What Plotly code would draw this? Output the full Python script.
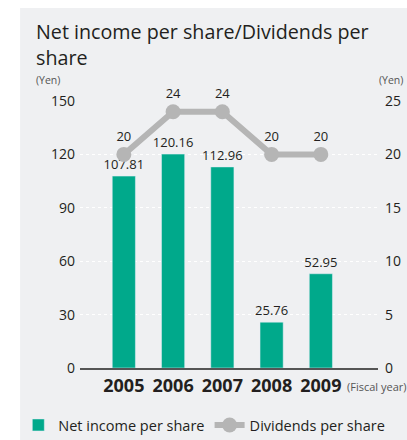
import plotly.graph_objects as go

years = ["2005", "2006", "2007", "2008", "2009"]
net_income = [107.81, 120.16, 112.96, 25.76, 52.95]
dividends = [20, 24, 24, 20, 20]
left_ticks = [0, 30, 60, 90, 120, 150]
right_ticks = [0, 5, 10, 15, 20, 25]

GREEN = "#00a98b"
GREY = "#b5b5b5"
PANEL = "#eff0f2"
TEXT = "#231f20"
FONT = "Open Sans"

xs = list(range(len(years)))

fig = go.Figure()
fig.add_trace(go.Bar(
    x=xs, y=net_income, name="Net income per share", legend="legend",
    marker_color=GREEN, width=0.47,
    text=[f"{v:.2f}" for v in net_income], textposition="outside",
    constraintext="none",
    textfont=dict(size=13, color=TEXT), cliponaxis=False,
))
fig.add_trace(go.Scatter(
    x=xs, y=dividends, name="Dividends per share", yaxis="y2", legend="legend2",
    mode="lines+markers+text",
    line=dict(color=GREY, width=6),
    marker=dict(size=15, color=GREY),
    text=[str(v) for v in dividends], textposition="top center",
    textfont=dict(size=13, color=TEXT), cliponaxis=False,
))

legend_style = dict(
    orientation="h", xref="container", yref="container",
    y=0.034, xanchor="left", yanchor="middle",
    font=dict(size=14.5, color=TEXT), bgcolor="rgba(0,0,0,0)",
    itemwidth=30,
)

fig.update_layout(
    width=407, height=440,
    margin=dict(l=80, r=29, t=101, b=72, autoexpand=False),
    paper_bgcolor=PANEL, plot_bgcolor=PANEL,
    font=dict(family=FONT, color=TEXT),
    showlegend=True,
    legend=dict(legend_style, x=0.045),
    legend2=dict(legend_style, x=0.515),
    bargap=0.5,
    xaxis=dict(
        range=[-0.89, 5.16], tickvals=xs, ticktext=years,
        tickfont=dict(size=18, color=TEXT, family=FONT, weight="bold"),
        showgrid=False, zeroline=False, automargin=False,
        showline=True, linecolor="#555", linewidth=2,
        ticks="", fixedrange=True,
    ),
    yaxis=dict(
        range=[0, 150], tickvals=left_ticks,
        tickfont=dict(size=14, color=TEXT), automargin=False,
        gridcolor="white", griddash="dot", gridwidth=1,
        zeroline=False, showline=False, ticklabelstandoff=4,
    ),
    yaxis2=dict(
        range=[0, 25], tickvals=right_ticks, overlaying="y", side="right",
        tickfont=dict(size=14, color=TEXT), automargin=False,
        showgrid=False, zeroline=False, showline=False, ticklabelstandoff=6,
    ),
    annotations=[
        dict(text="Net income per share/Dividends per<br>share", xref="paper", yref="paper",
             x=-0.154, y=1.105, xanchor="left", yanchor="bottom", showarrow=False,
             align="left", font=dict(size=19.7, color=TEXT)),
        dict(text="(Yen)", xref="paper", yref="paper", x=-0.154, y=1.045,
             xanchor="left", yanchor="bottom", showarrow=False,
             font=dict(size=10.5, color="#555")),
        dict(text="(Yen)", xref="paper", yref="paper", x=1.09, y=1.045,
             xanchor="right", yanchor="bottom", showarrow=False,
             font=dict(size=10.5, color="#555")),
        dict(text="(Fiscal year)", xref="paper", yref="paper", x=0.89, y=-0.035,
             xanchor="left", yanchor="top", showarrow=False,
             font=dict(size=11, color="#555")),
    ],
    shapes=[
        dict(type="rect", xref="paper", yref="paper", x0=-0.3, x1=-0.201, y0=-0.3, y1=1.4,
             fillcolor="white", line_width=0, layer="below"),
        dict(type="rect", xref="paper", yref="paper", x0=-0.3, x1=1.2, y0=1.348, y1=1.4,
             fillcolor="white", line_width=0, layer="below"),
    ],
)

fig.write_html("out.html", config={"displayModeBar": False},
               post_script="document.body.style.margin='0';")
